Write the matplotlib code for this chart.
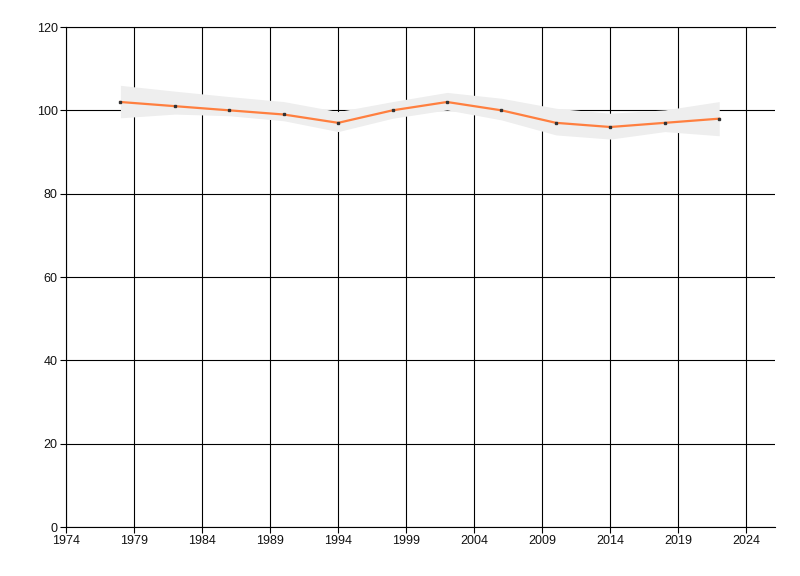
import matplotlib
matplotlib.use("Agg")
import matplotlib.pyplot as plt

# data
years = [1978, 1982, 1986, 1990, 1994, 1998, 2002, 2006, 2010, 2014, 2018, 2022]
values = [102, 101, 100, 99, 97, 100, 102, 100, 97, 96, 97, 98]
upper = [106, 104.6, 103.3, 102.1, 99.7, 102.1, 104.3, 102.9, 100.5, 99.3, 100.1, 102.1]
lower = [98.2, 99.1, 98.7, 97.5, 94.9, 98.1, 100.1, 97.7, 94.1, 93.1, 94.9, 93.9]
x_ticks = list(range(1974, 2025, 5))
y_ticks = list(range(0, 121, 20))

plt.rcParams['font.family'] = ['Liberation Sans', 'DejaVu Sans']

fig = plt.figure(figsize=(8, 5.76), dpi=100)
ax = fig.add_axes([66 / 800, 1 - 527 / 576, (775 - 66) / 800, 500 / 576])

ax.fill_between(years, lower, upper, color='#eeeeee', linewidth=0, zorder=3)
ax.plot(years, values, color='#ff7f3f', linewidth=1.6, zorder=4)
ax.plot(years, values, linestyle='none', marker='s', markersize=2,
        color='#333333', zorder=5)

ax.set_xlim(1974, 2026.1)
ax.set_ylim(0, 120)
ax.set_xticks(x_ticks)
ax.set_yticks(y_ticks)
ax.grid(True, color='black', linewidth=0.8, zorder=1)
ax.set_axisbelow(True)
ax.spines['right'].set_visible(False)
for side in ['left', 'bottom', 'top']:
    ax.spines[side].set_linewidth(0.8)
ax.tick_params(direction='out', length=4, width=0.8, labelsize=9, pad=2,
               labelcolor='#111111')

fig.savefig('out.png', dpi=100)
